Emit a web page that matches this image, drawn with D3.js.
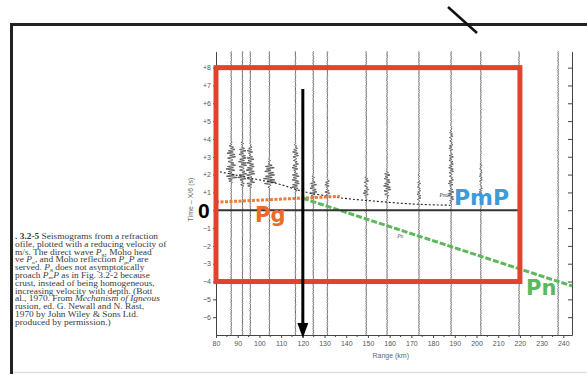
<!DOCTYPE html>
<html>
<head>
<meta charset="utf-8">
<script src="https://cdn.jsdelivr.net/npm/d3@7"></script>
<style>
  html, body { margin: 0; padding: 0; background: #fff; }
  svg { display: block; }
</style>
</head>
<body>
<svg id="chart" width="587" height="374"></svg>
<script>
// seismogram traces: range (km), wave train window (reduced time, s), amplitude (km)
var traceRange = [87, 92.2, 95.8, 104.6, 116.6, 124.8, 131.3, 149.2, 158.8, 173.5, 188.3, 202, 219.6, 237.6];
var trainStart = [1.5, 1.3, 1.2, 1.2, 1.0, 0.7, 0.8, 0.5, 0.6, 0.3, 0.3, 0.4, 0.3, 0];
var trainEnd   = [3.9, 4.0, 3.8, 2.9, 3.9, 2.0, 1.9, 2.0, 2.4, 2.2, 5.0, 3.0, 2.0, 0];
var trainAmp   = [2.6, 2.2, 2.2, 3.0, 1.8, 1.8, 1.3, 1.4, 1.8, 0.8, 1.2, 0.7, 0.5, 0];
// hand typed wiggle shape, reused along every trace
var wiggle = [0.2, -0.8, 1.0, -0.35, 0.9, -1.0, 0.5, -0.7, 0.95, -0.2, 0.8, -0.9, 0.3, -0.6, 1.0, -0.85, 0.6, -0.3, 0.15, -0.5, 0.7, -1.0, 0.45, -0.75, 0.9, -0.1, 0.55, -0.65, 0.25];

// travel time picks
var pmpRange = [80, 96, 111, 118, 134, 154, 174, 188];
var pmpTime  = [2.2, 1.8, 1.4, 1.12, 0.75, 0.5, 0.33, 0.28];
var pgRange  = [80, 137];
var pgTime   = [0.45, 0.78];
var pnRange  = [120, 244];
var pnTime   = [0.67, -4.25];

// highlighted box, zero line and arrow
var boxRange = [80, 220];
var boxTime  = [-4, 8];
var zeroRange = [80, 219.5];
var arrowRange = 120;
var arrowTime = [6.8, -7];

var xTicks = d3.range(80, 241, 10);
var yTicks = d3.range(-6, 9, 1);

var caption = [
  [{t: ". 3.2-5", b: 1}, {t: "  Seismograms from a refraction"}],
  [{t: "ofile, plotted with a reducing velocity of"}],
  [{t: "m/s. The direct wave "}, {t: "P", i: 1}, {t: "g", s: 1}, {t: ", Moho head"}],
  [{t: "ve "}, {t: "P", i: 1}, {t: "n", s: 1}, {t: ", and Moho reflection "}, {t: "P", i: 1}, {t: "m", s: 1}, {t: "P", i: 1}, {t: " are"}],
  [{t: "served. "}, {t: "P", i: 1}, {t: "g", s: 1}, {t: " does not asymptotically"}],
  [{t: "proach "}, {t: "P", i: 1}, {t: "m", s: 1}, {t: "P", i: 1}, {t: " as in Fig. 3.2-2 because"}],
  [{t: "crust, instead of being homogeneous,"}],
  [{t: "increasing velocity with depth. (Bott"}],
  [{t: "al., 1970. From "}, {t: "Mechanism of Igneous", i: 1}],
  [{t: "rusion, ed. G. Newall and N. Rast,"}],
  [{t: "1970 by John Wiley & Sons Ltd."}],
  [{t: "produced by permission.)"}]
];

var svg = d3.select("#chart");

var x = d3.scaleLinear().domain([80, 244]).range([216, 572]);
var y = d3.scaleLinear().domain([-7, 8.9]).range([335, 51.6]);

// page frame
svg.append("line").attr("x1", 10).attr("x2", 587).attr("y1", 24.5).attr("y2", 24.5)
  .attr("stroke", "#222").attr("stroke-width", 3);
svg.append("line").attr("x1", 11.5).attr("x2", 11.5).attr("y1", 23).attr("y2", 374)
  .attr("stroke", "#222").attr("stroke-width", 3);
svg.append("line").attr("x1", 13).attr("x2", 587).attr("y1", 372.5).attr("y2", 372.5)
  .attr("stroke", "#ddd").attr("stroke-width", 1.5);
svg.append("line").attr("x1", 448).attr("x2", 477).attr("y1", 7).attr("y2", 33)
  .attr("stroke", "#111").attr("stroke-width", 2.5);

// caption, stretched sideways like the scan
var cap = svg.append("g").attr("transform", "translate(15,0) scale(1.22,1)")
  .attr("font-family", "'Liberation Serif', 'DejaVu Serif', serif")
  .attr("font-size", 7.7).attr("fill", "#3a3a3a");
caption.forEach(function (parts, i) {
  var t = cap.append("text").attr("x", 0).attr("y", 239 + i * 7.8);
  var low = false;
  parts.forEach(function (p) {
    var ts = t.append("tspan").text(p.t);
    if (p.b) ts.attr("font-weight", "bold");
    if (p.i) ts.attr("font-style", "italic");
    if (p.s) { ts.attr("font-size", 4.8).attr("dy", 1.2); low = true; }
    else if (low) { ts.attr("dy", -1.2); low = false; }
  });
});

// axes
var axisFont = "'Liberation Sans', Arial, sans-serif";
var gx = svg.append("g").attr("transform", "translate(0," + y(-7) + ")")
  .call(d3.axisBottom(x).tickValues(xTicks).tickSize(3).tickSizeOuter(0).tickPadding(3));
gx.append("g").selectAll("line").data(d3.range(85, 245, 10)).join("line")
  .attr("x1", function (d) { return x(d); }).attr("x2", function (d) { return x(d); })
  .attr("y1", 0).attr("y2", 2).attr("stroke", "#444");

var gy = svg.append("g").attr("transform", "translate(" + x(80) + ",0)")
  .call(d3.axisLeft(y).tickValues(yTicks).tickSize(3).tickSizeOuter(0).tickPadding(2)
    .tickFormat(function (d) { return d > 0 ? "+" + d : d < 0 ? "\u2212" + (-d) : ""; }));

var gr = svg.append("g").attr("transform", "translate(" + x(244) + ",0)")
  .call(d3.axisLeft(y).tickValues(yTicks).tickSize(4).tickSizeOuter(0).tickFormat(""));

[gx, gy, gr].forEach(function (g) {
  g.selectAll("path.domain").attr("stroke", "#444").attr("stroke-width", 1);
  g.selectAll(".tick line").attr("stroke", "#444");
  g.selectAll("text").attr("font-family", axisFont).attr("font-size", 7).attr("fill", "#555");
});

svg.append("text").attr("transform", "translate(" + (x(80) - 23) + "," + y(0.6) + ") rotate(-90)")
  .attr("text-anchor", "middle").attr("font-family", axisFont).attr("font-size", 7).attr("fill", "#666")
  .text("Time \u2013 X/6 (s)");
svg.append("text").attr("x", x(160.5)).attr("y", 358).attr("text-anchor", "middle")
  .attr("font-family", axisFont).attr("font-size", 7).attr("fill", "#666").text("Range (km)");

// seismogram traces
var line = d3.line().x(function (d) { return x(d[0]); }).y(function (d) { return y(d[1]); });
var wave = d3.line().curve(d3.curveCardinal.tension(0.3))
  .x(function (d) { return x(d[0]); }).y(function (d) { return y(d[1]); });
var dt = 0.068;
var tGrid = d3.range(-7, 8.95, dt);
var traces = svg.append("g");
traceRange.forEach(function (r, i) {
  var s = trainStart[i], e = trainEnd[i], a = trainAmp[i];
  var rise = Math.min(0.35, (e - s) * 0.2);
  var pts = tGrid.map(function (t, k) {
    var env = 0.17;
    if (a > 0 && t >= s && t <= e) {
      var u = (t - s) / (e - s);
      env += t < s + rise ? a * (t - s) / rise : a * (0.55 + 0.45 * (1 - u)) * (u > 0.8 ? (1 - u) / 0.2 : 1);
    }
    return [r + wiggle[(k + i * 7) % wiggle.length] * env, t];
  });
  traces.append("path").attr("d", wave(pts)).attr("fill", "none")
    .attr("stroke", "#2a2a2a").attr("stroke-width", 0.75);
});

// travel time curves
svg.append("path").attr("d", d3.line().curve(d3.curveMonotoneX)
    .x(function (d) { return x(d); }).y(function (d, i) { return y(pmpTime[i]); })(pmpRange))
  .attr("fill", "none").attr("stroke", "#222").attr("stroke-width", 1.1).attr("stroke-dasharray", "2,2");
svg.append("text").attr("x", x(183)).attr("y", y(0.75)).attr("font-family", "serif")
  .attr("font-style", "italic").attr("font-size", 5.5).attr("fill", "#333").text("PmP");
svg.append("text").attr("x", x(163.5)).attr("y", y(-1.55)).attr("font-family", "serif")
  .attr("font-style", "italic").attr("font-size", 5.5).attr("fill", "#555").text("Pn");

svg.append("path").attr("d", line(pgRange.map(function (r, i) { return [r, pgTime[i]]; })))
  .attr("stroke", "#f07a3c").attr("stroke-width", 3).attr("stroke-dasharray", "3,1.5").attr("fill", "none");
svg.append("path").attr("d", line(pnRange.map(function (r, i) { return [r, pnTime[i]]; })))
  .attr("stroke", "#5cb85a").attr("stroke-width", 3).attr("stroke-dasharray", "6,2").attr("fill", "none");

// zero line
svg.append("line").attr("x1", x(zeroRange[0])).attr("x2", x(zeroRange[1]))
  .attr("y1", y(0)).attr("y2", y(0)).attr("stroke", "#333").attr("stroke-width", 2.2);

// red box
svg.append("rect").attr("x", x(boxRange[0])).attr("y", y(boxTime[1]))
  .attr("width", x(boxRange[1]) - x(boxRange[0])).attr("height", y(boxTime[0]) - y(boxTime[1]))
  .attr("fill", "none").attr("stroke", "#e2432d").attr("stroke-width", 5);

// arrow
var ax = x(arrowRange);
svg.append("line").attr("x1", ax).attr("x2", ax).attr("y1", y(arrowTime[0])).attr("y2", y(arrowTime[1]) - 8)
  .attr("stroke", "#000").attr("stroke-width", 3);
svg.append("path").attr("d", "M" + (ax - 5.5) + "," + (y(arrowTime[1]) - 12) + "L" + (ax + 5.5) + "," +
    (y(arrowTime[1]) - 12) + "L" + ax + "," + (y(arrowTime[1]) + 3) + "Z").attr("fill", "#000");

// annotations
var annFont = "'DejaVu Sans', Verdana, sans-serif";
svg.append("text").attr("x", 198).attr("y", y(0) + 7.5).attr("font-family", axisFont)
  .attr("font-weight", "bold").attr("font-size", 21).attr("fill", "#000").text("0");
svg.append("text").attr("x", 255).attr("y", 222).attr("font-family", annFont)
  .attr("font-weight", "bold").attr("font-size", 21).attr("fill", "#ee6a2c").text("Pg");
svg.append("text").attr("x", 454).attr("y", 205).attr("font-family", annFont)
  .attr("font-weight", "bold").attr("font-size", 22).attr("fill", "#3d9bd9").text("PmP");
svg.append("text").attr("x", 526).attr("y", 295).attr("font-family", annFont)
  .attr("font-weight", "bold").attr("font-size", 21).attr("fill", "#5cb85a").text("Pn");
</script>
</body>
</html>
